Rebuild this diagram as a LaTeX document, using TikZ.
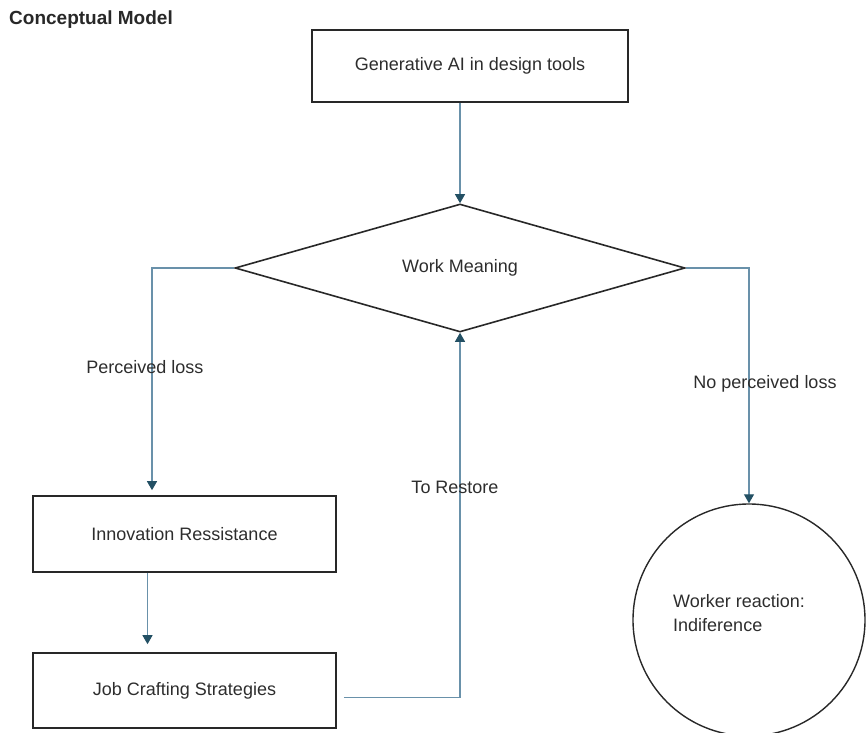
\documentclass[tikz,border=0pt]{standalone}
\usepackage{fontspec}
\setmainfont{Liberation Sans}
\usetikzlibrary{arrows.meta,positioning,shapes.geometric}
\definecolor{LineBlue}{RGB}{105,145,170}
\definecolor{TipTeal}{RGB}{35,80,100}
\definecolor{EdgeGray}{RGB}{40,40,40}
\definecolor{TextGray}{RGB}{45,45,45}

\begin{document}
\begin{tikzpicture}[x=1pt, y=1pt,
    mbox/.style={draw=EdgeGray, line width=1.6pt, minimum width=303pt, minimum height=76pt, inner sep=0pt, font=\fontsize{18}{21}\selectfont, text=TextGray},
    mdiam/.style={diamond, aspect=3.5, draw=EdgeGray, line width=1.6pt, minimum width=450pt, minimum height=128pt, inner sep=0pt, font=\fontsize{18}{21}\selectfont, text=TextGray},
    mcirc/.style={circle, draw=EdgeGray, line width=1.4pt, minimum size=232pt, inner sep=0pt},
    lbl/.style={font=\fontsize{18}{24}\selectfont, text=TextGray, inner sep=0pt},
    conn/.style={-{Triangle[width=10pt, length=9pt, color=TipTeal]}, line width=1.1pt, draw=LineBlue}
  ]
    \useasboundingbox (0,0) rectangle (866,732);

    \node[anchor=west, font=\fontsize{19}{22}\selectfont\bfseries, text=EdgeGray, inner sep=0pt] (title) at (9,712) {Conceptual Model};

    \node[mbox, minimum width=316pt, minimum height=72pt] (gen) at (470,666) {Generative AI in design tools};
    \node[mdiam] (wm) at (460,464) {Work Meaning};
    \node[mbox] (inno) at (184.5,198) {Innovation Ressistance};
    \node[mbox, minimum height=75pt] (job) at (184.5,41.5) {Job Crafting Strategies};
    \node[mcirc] (ind) at (749,112) {};
    \node[lbl, align=left, anchor=west] (indtxt) at (673,119) {Worker reaction:\\Indiference};

    % connectors
    \draw[conn] (wm.north |- gen.south) -- (wm.north);
    \draw[conn, shorten >=5pt] (wm.west) -| ([xshift=-32.5pt]inno.north);
    \draw[conn, shorten >=8pt] ([xshift=-37pt]inno.south) -- ([xshift=-37pt]job.north);
    \draw[conn, shorten <=7pt] ([yshift=-7pt]job.east) -| (wm.south);
    \draw[conn] (wm.east) -| (ind.north);

    % labels on the connectors
    \node[lbl] (lost) at (145,365) {Perceived loss};
    \node[lbl] (nolost) at (765,348) {No perceived loss};
    \node[lbl] (restore) at (455,245) {To Restore};
  \end{tikzpicture}
\end{document}
